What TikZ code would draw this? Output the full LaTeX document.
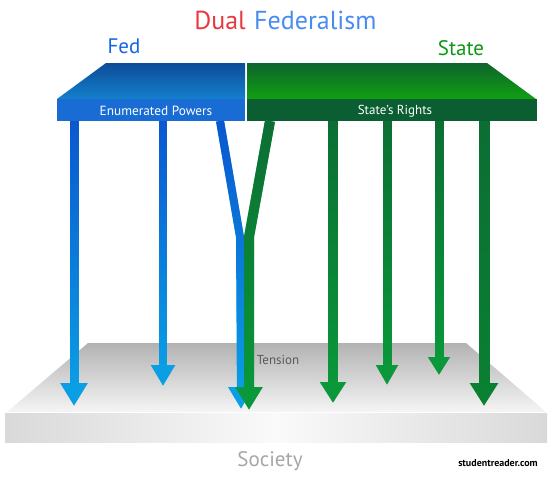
\documentclass[tikz,border=0pt]{standalone}
\usepackage{fontspec}
\setmainfont{PT Sans}
\usetikzlibrary{arrows.meta,positioning,shadings,fadings}
\definecolor{titlered}{RGB}{232, 56, 64}
\definecolor{titleblue}{RGB}{72, 140, 240}
\definecolor{fedtext}{RGB}{22, 100, 230}
\definecolor{sttext}{RGB}{14, 150, 20}
\definecolor{fedtop}{RGB}{12, 76, 152}
\definecolor{fedlow}{RGB}{20, 128, 204}
\definecolor{fedfront}{RGB}{24, 108, 212}
\definecolor{sttop}{RGB}{14, 100, 44}
\definecolor{stlow}{RGB}{16, 160, 18}
\definecolor{stfront}{RGB}{10, 94, 50}
\definecolor{fedarr}{RGB}{10, 158, 228}
\definecolor{fedarrtop}{RGB}{12, 86, 208}
\definecolor{starr}{RGB}{10, 152, 58}
\definecolor{starrtop}{RGB}{12, 110, 52}
\definecolor{stdark}{RGB}{10, 128, 50}
\tikzstyle{textonly} = [draw=none, fill=none, text centered, inner sep=0pt]
\tikzstyle{fedline} = [draw=fedarr, line join=miter]
\tikzstyle{stline} = [draw=starr, line join=miter]
\tikzstyle{fedshade} = [draw=fedarrtop, line join=miter, path fading=south]
\tikzstyle{stshade} = [draw=starrtop, line join=miter, path fading=south]

\begin{document}
\begin{tikzpicture}[x=1pt, y=-1pt]
\useasboundingbox (0,0) rectangle (553,480);
%title
\node[textonly, anchor=base east, text=titlered, font=\fontsize{26}{26}\selectfont] (dual) at (246,29) {Dual};
\node[textonly, anchor=base west, text=titleblue, font=\fontsize{26}{26}\selectfont] (federalism) at (254,29) {Federalism};
\node[textonly, anchor=base, text=fedtext, font=\fontsize{21}{21}\selectfont] (fed) at (124,53) {Fed};
\node[textonly, anchor=base, text=sttext, font=\fontsize{21}{21}\selectfont] (state) at (461,55) {State};

%table
\shade[top color=fedtop, bottom color=fedlow] (106,63) -- (245,63) -- (245,99) -- (57,99) -- cycle;
\fill[fedfront] (57,99) rectangle (245,121);
\shade[top color=sttop, bottom color=stlow] (247,63) -- (487,63) -- (536,99) -- (247,99) -- cycle;
\fill[stfront] (247,99) rectangle (537,121);
\node[textonly, text=white, font=\fontsize{13.3}{13.3}\selectfont] (enum) at (156,111) {Enumerated Powers};
\node[textonly, text=white, font=\fontsize{13}{13}\selectfont] (rights) at (395,111) {State’s Rights};

%society
\shade[top color=black!30, bottom color=black!4] (88,343) -- (466,343) -- (546,412) -- (7,412) -- cycle;
\shade[left color=black!15, right color=black!15, middle color=black!2] (5,413) rectangle (547,442);
\node[textonly, text=black!65, font=\fontsize{13}{13}\selectfont] (tension) at (278,360) {Tension};
\node[textonly, text=black!35, font=\fontsize{21}{21}\selectfont] (society) at (270,461) {Society};
\node[textonly, font=\bfseries\fontsize{10}{10}\selectfont] (site) at (498,463) {studentreader.com};

%ends
\coordinate (f1) at (74,121);  \coordinate (f1e) at (74,406);
\coordinate (f2) at (163,121); \coordinate (f2e) at (163,386);
\coordinate (f3) at (220,121); \coordinate (f3m) at (240,237); \coordinate (f3e) at (241,409);
\coordinate (s0) at (270,121); \coordinate (s0m) at (249,237); \coordinate (s0e) at (249,410);
\coordinate (s1) at (333,121); \coordinate (s1e) at (333,403);
\coordinate (s2) at (387,121); \coordinate (s2e) at (387,385);
\coordinate (s3) at (439,121); \coordinate (s3e) at (439,375);
\coordinate (s4) at (484,121); \coordinate (s4e) at (484,406);

%paths
\draw[fedline, line width=9pt, -{Triangle[width=26pt,length=23pt]}] (f1) -- (f1e);
\draw[fedline, line width=8pt, -{Triangle[width=23pt,length=21pt]}] (f2) -- (f2e);
\draw[fedline, line width=8pt, -{Triangle[width=24pt,length=22pt]}] (f3) -- (f3m) -- (f3e);
\draw[fedshade, line width=9pt] (f1) -- ([yshift=24pt]f1e);
\draw[fedshade, line width=8pt] (f2) -- ([yshift=22pt]f2e);
\draw[fedshade, line width=8pt] (f3) -- (f3m) -- ([yshift=23pt]f3e);

\draw[stline, line width=10pt, -{Triangle[width=26pt,length=23pt]}] (s0) -- (s0m) -- (s0e);
\draw[stline, line width=10pt, -{Triangle[width=25pt,length=21pt]}] (s1) -- (s1e);
\draw[stline, line width=9pt, -{Triangle[width=21pt,length=20pt]}] (s2) -- (s2e);
\draw[stline, line width=9pt, -{Triangle[width=21pt,length=18pt]}] (s3) -- (s3e);
\draw[stline, draw=stdark, line width=11pt, -{Triangle[width=27pt,length=23pt]}] (s4) -- (s4e);
\draw[stshade, line width=10pt] (s0) -- (s0m) -- ([yshift=24pt]s0e);
\draw[stshade, line width=10pt] (s1) -- ([yshift=22pt]s1e);
\draw[stshade, line width=9pt] (s2) -- ([yshift=21pt]s2e);
\draw[stshade, line width=9pt] (s3) -- ([yshift=19pt]s3e);
\draw[stshade, line width=11pt] (s4) -- ([yshift=24pt]s4e);

\end{tikzpicture}
\end{document}
